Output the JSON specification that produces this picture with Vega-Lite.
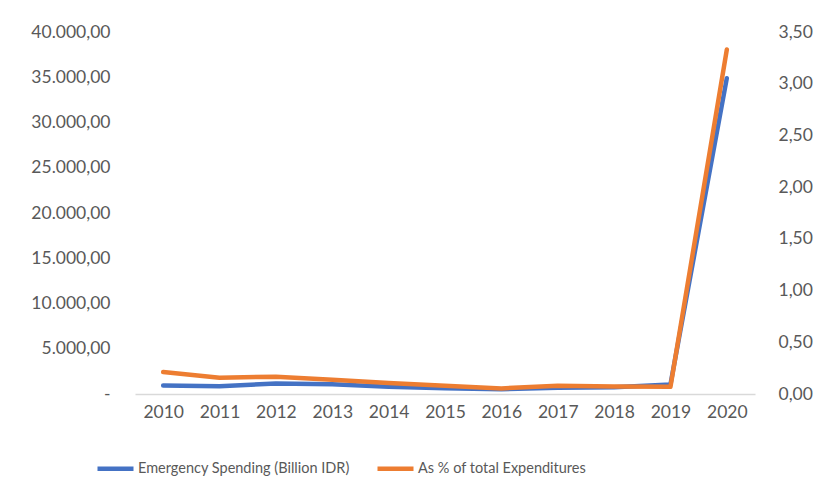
{
  "$schema": "https://vega.github.io/schema/vega-lite/v6.json",
  "width": 620,
  "height": 362,
  "autosize": "none",
  "padding": {"left": 135, "top": 32, "right": 62, "bottom": 101},
  "background": "white",
  "config": {
    "locale": {"number": {"decimal": ",", "thousands": ".", "grouping": [3], "currency": ["", ""]}},
    "font": "Lato",
    "view": {"stroke": null},
    "axis": {"labelFont": "Lato", "labelFontSize": 17.5, "labelColor": "#595959", "ticks": false, "grid": false, "title": null}
  },
  "data": {"values": [
    {"year": "2010", "spend": 950, "pct": 0.213},
    {"year": "2011", "spend": 860, "pct": 0.158},
    {"year": "2012", "spend": 1150, "pct": 0.167},
    {"year": "2013", "spend": 1080, "pct": 0.138},
    {"year": "2014", "spend": 800, "pct": 0.106},
    {"year": "2015", "spend": 640, "pct": 0.08},
    {"year": "2016", "spend": 530, "pct": 0.054},
    {"year": "2017", "spend": 700, "pct": 0.08},
    {"year": "2018", "spend": 750, "pct": 0.073},
    {"year": "2019", "spend": 1050, "pct": 0.07},
    {"year": "2020", "spend": 34900, "pct": 3.33}
  ]},
  "encoding": {
    "x": {"field": "year", "type": "ordinal", "scale": {"type": "point", "padding": 0.5},
      "axis": {"labelAngle": 0, "domainColor": "#d9d9d9", "domainWidth": 1.5, "labelPadding": 9}}
  },
  "layer": [
    {
      "mark": {"type": "line", "strokeWidth": 4.5, "strokeCap": "round", "strokeJoin": "round"},
      "encoding": {
        "y": {"field": "spend", "type": "quantitative", "scale": {"domain": [0, 40000]},
          "axis": {"orient": "left", "values": [0, 5000, 10000, 15000, 20000, 25000, 30000, 35000, 40000], "format": ",.2f", "labelExpr": "datum.value === 0 ? '-\u00a0\u00a0\u00a0\u00a0\u00a0' : datum.label", "domain": false, "labelPadding": 25}},
        "color": {"datum": "Emergency Spending (Billion IDR)", "type": "nominal",
          "scale": {"domain": ["Emergency Spending (Billion IDR)", "As % of total Expenditures"], "range": ["#4472C4", "#ED7D31"]},
          "legend": {"orient": "none", "legendX": -40, "legendY": 416, "direction": "horizontal", "title": null,
            "symbolType": "stroke", "symbolSize": 1296, "symbolStrokeWidth": 4.5, "labelFont": "Lato", "labelFontSize": 14.5, "labelColor": "#595959", "labelOffset": 2, "labelLimit": 0, "columnPadding": 18}}
      }
    },
    {
      "mark": {"type": "line", "strokeWidth": 4.5, "strokeCap": "round", "strokeJoin": "round"},
      "encoding": {
        "y": {"field": "pct", "type": "quantitative", "scale": {"domain": [0, 3.5]},
          "axis": {"orient": "right", "values": [0, 0.5, 1, 1.5, 2, 2.5, 3, 3.5], "format": ".2f", "domain": false, "labelPadding": 23}},
        "color": {"datum": "As % of total Expenditures", "type": "nominal"}
      }
    }
  ],
  "resolve": {"scale": {"y": "independent"}}
}
